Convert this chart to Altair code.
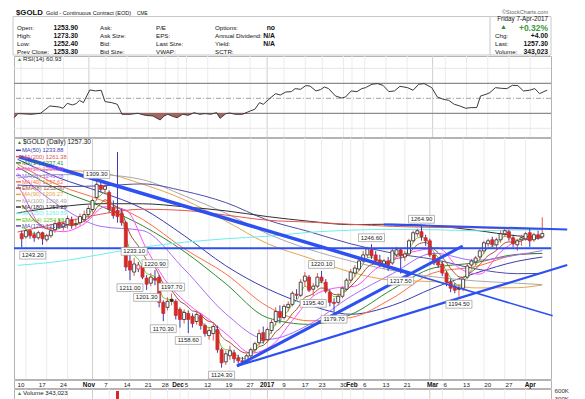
import altair as alt
import numpy as np
import pandas as pd

FONT = "Liberation Sans"
BLUE = "#2f50f0"
RED = "#d42a2a"
W = 537

# ---------------- x axis (trading-day index, 0 = Mon 10-Oct-2016) ----------------
tick_idx = [0, 5, 10, 16, 20, 25, 30, 34, 37, 39, 44, 49, 54, 58, 62, 67, 71, 76, 78, 81, 86, 91, 97, 100, 105, 110, 115, 120]
tick_lab = ["10", "17", "24", "Nov", "7", "14", "21", "28", "Dec", "5", "12", "19", "27", "2017", "9", "17", "23", "30",
            "Feb", "6", "13", "21", "Mar", "6", "13", "20", "27", "Apr"]
month_labels = ["Nov", "Dec", "2017", "Feb", "Mar", "Apr"]
dark_ticks = [16, 58, 97]

# ---------------- daily candles (idx -1 .. 124) ----------------
day_idx = list(range(-1, 125))
opens = [1257, 1254, 1260, 1256, 1253, 1258, 1251, 1255, 1261, 1268, 1264, 1266, 1271, 1266, 1268, 1271, 1276, 1281, 1293, 1305,
         1301, 1298, 1283, 1280, 1277, 1268, 1230, 1219, 1222, 1225, 1213, 1208, 1213, 1214, 1189, 1184, 1192, 1190, 1182, 1172,
         1178, 1175, 1170, 1176, 1166, 1156, 1158, 1162, 1142, 1130, 1136, 1139, 1134, 1131, 1130, 1136, 1142, 1149, 1159, 1152,
         1161, 1170, 1180, 1174, 1184, 1187, 1197, 1196, 1210, 1214, 1202, 1205, 1214, 1209, 1199, 1189, 1189, 1195, 1202, 1211,
         1218, 1222, 1230, 1236, 1241, 1236, 1231, 1227, 1230, 1228, 1236, 1241, 1234, 1237, 1250, 1257, 1259, 1253, 1250, 1236,
         1230, 1227, 1218, 1209, 1204, 1203, 1203, 1214, 1226, 1229, 1234, 1240, 1247, 1251, 1246, 1251, 1257, 1259, 1253, 1246,
         1251, 1252, 1258, 1251, 1256, 1253.9]
highs = [1260, 1262, 1261, 1259, 1260, 1259, 1257, 1264, 1270, 1272, 1270, 1275, 1274, 1272, 1277, 1280, 1285, 1292, 1309.3, 1308,
         1306, 1300, 1290, 1338, 1282, 1270, 1236, 1233.1, 1229, 1227, 1216, 1218, 1220.9, 1216, 1191, 1194, 1197.7, 1192, 1184, 1182,
         1181, 1178, 1180, 1178, 1168, 1164, 1168, 1166, 1144, 1141, 1146, 1142, 1137, 1135, 1138, 1144, 1150, 1162, 1165, 1164,
         1172, 1184, 1186, 1187, 1190, 1200, 1202, 1212, 1219, 1216, 1208, 1218, 1220.1, 1212, 1202, 1193, 1198, 1205, 1213, 1222,
         1226, 1233, 1240, 1244, 1246.6, 1240, 1236, 1232, 1234, 1243, 1244, 1243, 1240, 1252, 1260, 1262, 1264.9, 1256, 1252, 1238,
         1233, 1230, 1220, 1212, 1208, 1207, 1214, 1228, 1232, 1235, 1243, 1250, 1252, 1254, 1253, 1260, 1263, 1261, 1256, 1252,
         1256, 1259, 1262, 1258, 1260, 1273.3]
lows = [1243.2, 1252, 1252, 1249, 1251, 1246, 1249, 1253, 1258, 1262, 1260, 1262, 1262, 1263, 1265, 1268, 1272, 1278, 1290, 1298,
        1296, 1278, 1272, 1268, 1265, 1220, 1211, 1215, 1219, 1212, 1201.3, 1205, 1206, 1184, 1170.3, 1181, 1186, 1172, 1164, 1168,
        1158.6, 1164, 1167, 1162, 1155, 1152, 1151, 1139, 1124.3, 1127, 1132, 1129, 1128, 1127, 1128, 1134, 1139, 1146, 1148, 1149,
        1158, 1166, 1168, 1172, 1180, 1185, 1192, 1194, 1205, 1199, 1195.4, 1203, 1208, 1198, 1185, 1179.7, 1186, 1193, 1200, 1208,
        1214, 1220, 1228, 1233, 1232, 1227, 1224, 1222, 1220, 1226, 1234, 1217.5, 1230, 1235, 1248, 1254, 1250, 1245, 1234, 1226,
        1223, 1215, 1205, 1199, 1198, 1194.5, 1200, 1212, 1222, 1226, 1231, 1237, 1244, 1244, 1241, 1248, 1254, 1250, 1244, 1240,
        1245, 1250, 1244, 1249, 1251, 1252.4]
closes = [1252, 1260, 1255, 1253, 1258, 1252, 1255, 1260, 1267, 1264, 1267, 1272, 1265, 1267, 1274, 1276, 1282, 1290, 1306, 1301,
          1304, 1281, 1275, 1274, 1268, 1224, 1221, 1227, 1226, 1214, 1207, 1214, 1211, 1189, 1178, 1190, 1190, 1176, 1172, 1179,
          1172, 1168, 1177, 1166, 1158, 1161, 1165, 1142, 1129, 1138, 1141, 1133, 1131, 1130, 1136, 1142, 1148, 1158, 1151, 1162,
          1169, 1180, 1174, 1185, 1187, 1198, 1196, 1209, 1215, 1201, 1205, 1214, 1210, 1200, 1189, 1188, 1195, 1203, 1211, 1219,
          1223, 1230, 1236, 1242, 1235, 1230, 1227, 1230, 1226, 1240, 1241, 1235, 1237, 1250, 1258, 1260, 1254, 1250, 1236, 1228,
          1226, 1218, 1209, 1203, 1201, 1202, 1212, 1225, 1230, 1233, 1240, 1248, 1250, 1246, 1251, 1257, 1260, 1253, 1247, 1250,
          1253, 1257, 1250, 1256, 1253.3, 1257.3]

# ---------------- moving averages ----------------
ma_idx = [-2, 8, 18, 28, 38, 48, 58, 68, 78, 88, 98, 108, 118, 124]
ma50 = [1330.8, 1312.3, 1298.3, 1282.0, 1255.2, 1225.3, 1202.4, 1186.3, 1177.2, 1185.9, 1203.4, 1217.9, 1229.7, 1233.88]
ma40 = [1326.0, 1304.9, 1290.4, 1271.3, 1242.2, 1217.2, 1185.0, 1170.7, 1173.9, 1193.0, 1218.4, 1224.5, 1236.2, 1237.62]
ma34 = [1323.2, 1300.5, 1284.3, 1265.0, 1239.5, 1207.5, 1173.8, 1167.2, 1176.8, 1201.8, 1223.2, 1228.3, 1236.6, 1237.41]
ma21 = [1316.7, 1284.8, 1264.3, 1260.2, 1222.0, 1177.7, 1152.3, 1166.9, 1194.8, 1217.3, 1237.7, 1230.6, 1236.0, 1240.28]
ma90 = [1322.0, 1320.1, 1317.5, 1306.2, 1290.8, 1269.6, 1247.2, 1232.9, 1219.0, 1210.9, 1209.5, 1203.3, 1203.5, 1206.27]
ma100 = [1312.3, 1315.6, 1315.3, 1310.6, 1294.7, 1277.4, 1257.0, 1241.6, 1229.9, 1220.5, 1214.3, 1210.2, 1208.0, 1206.49]
ma120 = [1305.3, 1303.8, 1304.4, 1306.4, 1299.3, 1287.9, 1270.6, 1259.1, 1247.0, 1237.8, 1231.5, 1222.2, 1217.4, 1217.66]
ma180 = [1277.7, 1283.6, 1286.8, 1286.7, 1283.7, 1279.7, 1274.0, 1269.4, 1266.0, 1266.5, 1264.8, 1260.4, 1254.9, 1253.29]
ma200 = [1258.7, 1267.5, 1276.4, 1281.3, 1280.1, 1275.5, 1270.4, 1268.5, 1266.4, 1264.3, 1263.3, 1262.9, 1261.6, 1261.38]
ma250 = [1225.7, 1229.6, 1236.5, 1243.6, 1248.5, 1252.0, 1254.5, 1258.4, 1260.5, 1261.3, 1261.0, 1259.9, 1260.7, 1260.89]
ma10_idx = [-2, -1, 4, 9, 14, 19, 24, 29, 34, 39, 44, 49, 54, 59, 64, 69, 74, 79, 84, 89, 94, 99, 104, 109, 114, 119, 124]
ma10 = [1305, 1298.2, 1263.4, 1259.1, 1266.7, 1283.7, 1280.5, 1241.7, 1208, 1187, 1172, 1154.5, 1138.7, 1146, 1171, 1195, 1203,
        1205, 1222, 1234, 1240, 1243, 1223, 1217, 1239, 1251.5, 1254.07]
ema4 = [1263, 1261.8, 1259.1, 1256.7, 1257.2, 1255.1, 1255.1, 1257.1, 1261.0, 1262.2, 1264.1, 1267.3, 1266.4, 1266.6, 1269.6, 1272.1,
        1276.1, 1281.7, 1291.4, 1295.2, 1298.7, 1291.6, 1285.0, 1280.6, 1275.6, 1255.0, 1241.4, 1235.6, 1231.8, 1224.7, 1217.6, 1216.2,
        1214.1, 1204.1, 1193.6, 1192.2, 1191.3, 1185.2, 1179.9, 1179.5, 1176.5, 1173.1, 1174.7, 1171.2, 1165.9, 1164.0, 1164.4, 1155.4,
        1144.9, 1142.1, 1141.7, 1138.2, 1135.3, 1133.2, 1134.3, 1137.4, 1141.6, 1148.2, 1149.3, 1154.4, 1160.2, 1168.1, 1170.5, 1176.3,
        1180.6, 1187.6, 1190.9, 1198.2, 1204.9, 1203.3, 1204.0, 1208.0, 1208.8, 1205.3, 1198.8, 1194.5, 1194.7, 1198.0, 1203.2, 1209.5,
        1214.9, 1220.9, 1227.0, 1233.0, 1233.8, 1232.3, 1230.2, 1230.1, 1228.5, 1233.1, 1236.2, 1235.7, 1236.2, 1241.7, 1248.2, 1252.9,
        1253.4, 1252.0, 1245.6, 1238.6, 1233.5, 1227.3, 1220.0, 1213.2, 1208.3, 1205.8, 1208.3, 1215.0, 1221.0, 1225.8, 1231.5, 1238.1,
        1242.8, 1244.1, 1246.9, 1250.9, 1254.6, 1253.9, 1251.2, 1250.7, 1251.6, 1253.8, 1252.3, 1253.8, 1253.5, 1254.58]
ema8 = [1285, 1281.3, 1275.5, 1270.5, 1267.7, 1264.2, 1262.2, 1261.7, 1262.9, 1263.1, 1264.0, 1265.6, 1265.5, 1265.7, 1267.7, 1269.5,
        1272.3, 1276.2, 1282.8, 1286.8, 1290.6, 1288.5, 1285.5, 1282.9, 1279.6, 1267.3, 1257.0, 1250.3, 1244.9, 1238.0, 1231.1, 1227.3,
        1223.7, 1216.0, 1207.5, 1203.6, 1200.6, 1195.1, 1190.0, 1187.6, 1184.1, 1180.5, 1179.7, 1176.7, 1172.5, 1170.0, 1168.9, 1162.9,
        1155.4, 1151.5, 1149.2, 1145.6, 1142.4, 1139.6, 1138.8, 1139.5, 1141.4, 1145.1, 1146.4, 1149.9, 1154.1, 1159.9, 1163.0, 1167.9,
        1172.1, 1177.9, 1181.9, 1187.9, 1193.9, 1195.5, 1197.6, 1201.2, 1203.2, 1202.5, 1199.5, 1196.9, 1196.5, 1198.0, 1200.9, 1204.9,
        1208.9, 1213.6, 1218.6, 1223.8, 1226.3, 1227.1, 1227.1, 1227.7, 1227.3, 1230.1, 1232.5, 1233.1, 1234.0, 1237.5, 1242.1, 1246.1,
        1247.8, 1248.3, 1245.6, 1241.7, 1238.2, 1233.7, 1228.2, 1222.6, 1217.8, 1214.3, 1213.8, 1216.3, 1219.3, 1222.4, 1226.3, 1231.1,
        1235.3, 1237.7, 1240.6, 1244.3, 1247.8, 1248.9, 1248.5, 1248.8, 1249.8, 1251.4, 1251.1, 1252.2, 1252.4, 1252.90]

legend_names = ["MA(50)", "MA(200)", "MA(34)", "MA(10)", "MA(21)", "MA(40)", "EMA(8)", "MA(90)", "MA(100)", "MA(180)",
                "MA(250)", "EMA(4)", "MA(120)"]
legend_values = ["1233.88", "1261.38", "1237.41", "1254.07", "1240.28", "1237.62", "1252.90", "1206.27", "1206.49", "1253.29",
                 "1260.89", "1254.58", "1217.66"]
legend_colors = ["#3b3bb0", "#e5564e", "#2e8b2e", "#ff4dff", "#a66cff", "#ff6d3f", "#a0522d", "#e6a64c", "#a9a9a9", "#303030",
                 "#6feeee", "#66cc2c", "#4d4daa"]

# ---------------- trend lines ----------------
trend_names = ["down_thick", "down_thin", "rise_steep", "rise_shallow", "top"]
trend_i0 = [-1.65, 92.4, 50.7, 50.7, 86.0]
trend_p0 = [1333.3, 1217.6, 1125.9, 1125.9, 1266.2]
trend_i1 = [92.4, 126.5, 104.9, 130.0, 130.0]
trend_p1 = [1217.6, 1175.6, 1244.8, 1226.0, 1261.2]
trend_width = [3.5, 1.6, 3.0, 2.2, 2.0]
hline_price = 1242.5

# ---------------- high / low annotations ----------------
ann_hi_idx = [17, 26, 31, 35, 71, 83, 95]
ann_hi_val = [1309.30, 1233.10, 1220.90, 1197.70, 1220.10, 1246.60, 1264.90]
ann_lo_idx = [25, 29, 33, 39, 47, 69, 74, 90, 104]
ann_lo_val = [1211.00, 1201.30, 1170.30, 1158.60, 1124.30, 1195.40, 1179.70, 1217.50, 1194.50]
ann_first_idx = [-1]
ann_first_val = [1243.20]

# ---------------- RSI(14) ----------------
rsi_idx = [-1.6, -0.7, 2.4, 4.6, 6.8, 9.0, 9.9, 10.9, 12.1, 13.0, 13.8, 14.7, 16.2, 17.6, 18.9, 19.8, 21.4, 22.7, 23.8, 25.8,
           27.5, 29.3, 31.1, 32.8, 33.7, 34.6, 35.9, 36.8, 38.1, 39.4, 40.8, 42.1, 43.4, 44.7, 46.1, 46.9, 48.3, 49.2, 50.5, 52.2,
           54.0, 55.1, 56.2, 57.1, 58.4, 60.0, 61.1, 62.4, 63.7, 64.6, 65.9, 67.1, 68.1, 69.5, 70.6, 71.5, 72.5, 74.1, 75.6, 76.5,
           77.8, 79.2, 80.3, 81.2, 82.7, 84.0, 85.3, 86.7, 88.0, 89.3, 91.1, 92.4, 93.7, 95.0, 96.8, 98.1, 99.5, 100.8, 102.1, 103.4,
           104.8, 106.1, 107.4, 108.3, 109.6, 110.5, 111.8, 113.2, 114.5, 115.8, 117.1, 118.4, 119.8, 121.1, 122.2, 124.0]
rsi_val = [24.2, 29.6, 28.7, 30.0, 39.8, 38.4, 36.7, 43.3, 41.1, 42.9, 47.3, 44.2, 61.1, 59.8, 60.7, 45.6, 44.2, 42.0, 28.7, 28.7,
           30.0, 27.3, 26.4, 21.1, 26.4, 28.7, 25.6, 24.2, 28.7, 27.3, 30.9, 28.7, 29.6, 28.7, 30.9, 23.3, 29.6, 30.4, 28.7, 28.7,
           33.1, 35.3, 44.2, 42.0, 48.7, 56.2, 54.4, 58.4, 58.9, 62.9, 62.0, 66.9, 66.4, 59.8, 61.6, 65.1, 62.9, 53.1, 50.4, 51.8,
           59.8, 58.9, 62.9, 64.2, 68.7, 69.6, 67.3, 58.9, 59.8, 66.0, 64.2, 60.7, 68.7, 69.6, 64.2, 51.8, 48.7, 47.3, 42.0, 39.8,
           36.7, 37.6, 37.6, 53.1, 55.3, 57.6, 64.2, 63.3, 62.9, 67.3, 66.9, 59.8, 60.7, 62.9, 56.2, 60.93]
rsi_ticks = [10, 30, 50, 70, 90]

# ---------------- volume (only the visible top) ----------------
vol_idx = [22]
vol_val = [574000]

# ======================================================================
xs = alt.Scale(domain=[-1.65, 124.9], nice=False, zero=False)
X = alt.X("i:Q", scale=xs, axis=None)
one = pd.DataFrame({"a": [0]})


def txt(s, x, y, size=6.2, weight="normal", color="#111", align="left", baseline="middle", font=FONT):
    return alt.Chart(one).mark_text(text=s, fontSize=size, fontWeight=weight, color=color, align=align,
                                    baseline=baseline, font=font).encode(x=alt.value(x), y=alt.value(y))


def box(x1, x2, y1, y2, color="#c8c8c8"):
    return alt.Chart(one).mark_rect(fillOpacity=0, stroke=color, strokeWidth=1).encode(
        x=alt.value(x1), x2=alt.value(x2), y=alt.value(y1), y2=alt.value(y2))


def vgrid():
    tdf = pd.DataFrame({"i": tick_idx})
    tdf["dark"] = tdf["i"].isin(dark_ticks)
    light = alt.Chart(tdf[~tdf["dark"]]).mark_rule(color="#ececec", strokeWidth=1).encode(x=X)
    dark = alt.Chart(tdf[tdf["dark"]]).mark_rule(color="#cfcfcf", strokeWidth=1).encode(x=X)
    return [light, dark]


# ---------------- header ----------------
hdr = [
    box(-1, 537, 7.5, 46),
    alt.Chart(one).mark_rule(color="#c8c8c8").encode(x=alt.value(476), y=alt.value(7.5), y2=alt.value(46)),
    txt("$GOLD", 2, 4, size=7.8, weight="bold"),
    txt("Gold - Continuous Contract (EOD)", 32, 4.3, size=5.6),
    txt("CME", 123, 4.5, size=4.8),
    txt("\u00a9StockCharts.com", 534, 3, size=5.5, color="#666", align="right"),
]
rows_y = [18.7, 26.5, 34.5, 42.7]
for lab, val, y in zip(["Open:", "High:", "Low:", "Prev Close:"], ["1253.90", "1273.30", "1252.40", "1253.30"], rows_y):
    hdr.append(txt(lab, 3, y))
    hdr.append(txt(val, 64, y, size=6.8, weight="bold", align="right"))
for lab, y in zip(["Ask:", "Ask Size:", "Bid:", "Bid Size:"], rows_y):
    hdr.append(txt(lab, 86, y))
for lab, y in zip(["P/E", "EPS:", "Last Size:", "VWAP:"], rows_y):
    hdr.append(txt(lab, 142, y))
for lab, val, y in zip(["Options:", "Annual Dividend:", "Yield:", "SCTR:"], ["no", "N/A", "N/A", ""], rows_y):
    hdr.append(txt(lab, 201, y))
    if val:
        hdr.append(txt(val, 261, y, size=6.8, weight="bold", align="right"))
hdr += [
    txt("Friday  7-Apr-2017", 534, 10, size=6.3, align="right"),
    txt("\u25b2", 486, 18, size=7, color="#2e8b2e"),
    txt("+0.32%", 534, 18.5, size=8.5, weight="bold", color="#3a9a3a", align="right"),
    txt("Chg:", 481, 26.5), txt("+4.00", 534, 26.5, size=6.8, weight="bold", align="right"),
    txt("Last:", 481, 34.5), txt("1257.30", 534, 34.5, size=6.8, weight="bold", align="right"),
    txt("Volume:", 481, 42.7), txt("343,023", 534, 42.7, size=6.8, weight="bold", align="right"),
]
header = alt.layer(*hdr).properties(width=W, height=46, view=alt.ViewBackground(stroke="transparent"))

# ---------------- RSI panel ----------------
rsi_scale = alt.Scale(domain=[-1.6, 106.4], nice=False, zero=False)
rsi_df = pd.DataFrame({"i": rsi_idx, "r": rsi_val})
lvl = pd.DataFrame({"r": rsi_ticks})
rsi_layers = vgrid() + [
    alt.Chart(lvl[lvl.r.isin([10, 90])]).mark_rule(color="#e6e6e6").encode(y=alt.Y("r:Q", scale=rsi_scale, axis=None)),
    alt.Chart(lvl[lvl.r.isin([30, 70])]).mark_rule(color="#8c8c8c", strokeWidth=1.2).encode(
        y=alt.Y("r:Q", scale=rsi_scale, axis=None)),
    alt.Chart(lvl[lvl.r == 50]).mark_rule(color="#a0a0a0", strokeDash=[5, 2, 1, 2]).encode(
        y=alt.Y("r:Q", scale=rsi_scale, axis=None)),
    alt.Chart(rsi_df).transform_calculate(rlo="min(datum.r, 30)").mark_area(color="#a2524c", opacity=0.9).encode(
        x=X, y=alt.Y("rlo:Q", scale=rsi_scale, axis=None), y2=alt.datum(30)),
    alt.Chart(rsi_df).mark_line(color="#3a3a3a", strokeWidth=1).encode(
        x=X, y=alt.Y("r:Q", scale=rsi_scale,
                     axis=alt.Axis(orient="right", values=rsi_ticks, grid=False, domain=False, ticks=False,
                                   labelFontSize=6.2, labelFont=FONT, labelColor="#333", labelPadding=3, title=None))),
    txt("\u25b2", 3, 3, size=5, color="#2e8b2e"),
    txt("RSI(14) 60.93", 9, 3, size=6.2, color="#222"),
]
rsi = alt.layer(*rsi_layers).properties(width=W, height=81)

# ---------------- main price panel ----------------
ps = alt.Scale(domain=[1113.0, 1351.9], nice=False, zero=False)
Y_none = lambda f: alt.Y(f, scale=ps, axis=None)
price_ticks = list(range(1120, 1341, 10))

cd = pd.DataFrame({"i": day_idx, "o": opens, "h": highs, "l": lows, "c": closes})
prev = cd["c"].shift(1).fillna(1254.0)
cd["col"] = np.where(cd["c"] < prev, "red", "black")
cd["fil"] = np.where(cd["c"] < cd["o"], cd["col"], "white")
cd["lo"] = cd[["o", "c"]].min(axis=1)
cd["hi"] = cd[["o", "c"]].max(axis=1)

ma_frames = []
anchored = {"MA(50)": ma50, "MA(40)": ma40, "MA(34)": ma34, "MA(21)": ma21, "MA(90)": ma90, "MA(100)": ma100,
            "MA(120)": ma120, "MA(180)": ma180, "MA(200)": ma200, "MA(250)": ma250}
for n, vals in anchored.items():
    ma_frames.append(pd.DataFrame({"name": n, "i": ma_idx, "v": vals}))
ma_frames.append(pd.DataFrame({"name": "MA(10)", "i": ma10_idx, "v": ma10}))
ma_frames.append(pd.DataFrame({"name": "EMA(8)", "i": day_idx, "v": ema8}))
ma_frames.append(pd.DataFrame({"name": "EMA(4)", "i": day_idx, "v": ema4}))
ma_df = pd.concat(ma_frames, ignore_index=True)
draw_order = ["MA(250)", "MA(200)", "MA(180)", "MA(90)", "MA(100)", "MA(120)", "MA(50)", "MA(40)", "MA(34)", "MA(21)",
              "MA(10)", "EMA(8)", "EMA(4)"]
ma_df["ord"] = ma_df["name"].map({n: k for k, n in enumerate(draw_order)})

tl_rows = []
for n, i0, p0, i1, p1, w in zip(trend_names, trend_i0, trend_p0, trend_i1, trend_p1, trend_width):
    tl_rows += [{"line": n, "i": i0, "p": p0, "w": w}, {"line": n, "i": i1, "p": p1, "w": w}]
tl_df = pd.DataFrame(tl_rows)

hi_df = pd.DataFrame({"i": ann_hi_idx, "v": ann_hi_val})
lo_df = pd.DataFrame({"i": ann_lo_idx, "v": ann_lo_val})
first_df = pd.DataFrame({"i": ann_first_idx, "v": ann_first_val})
BOX = "M-1,-0.3H1V0.3H-1Z"


def ann(df, off, dx=0):
    base = alt.Chart(df).transform_calculate(t="format(datum.v, '.2f')")
    b = base.mark_point(shape=BOX, size=676, filled=True, fill="white", stroke="#9a9a9a", strokeWidth=0.7, opacity=1,
                        yOffset=off, xOffset=dx).encode(x=X, y=Y_none("v:Q"))
    t = base.mark_text(fontSize=6, font=FONT, color="#222", dy=off, dx=dx).encode(x=X, y=Y_none("v:Q"), text="t:N")
    return [b, t]


main_layers = [
    alt.Chart(pd.DataFrame({"p": price_ticks})).mark_rule(opacity=0).encode(
        y=alt.Y("p:Q", scale=ps, axis=alt.Axis(orient="right", values=price_ticks, grid=True, gridColor="#e6e6e6",
                                                domain=False, ticks=False, labelFontSize=6.2, labelFont=FONT,
                                                labelColor="#333", labelPadding=3, title=None))),
] + vgrid() + [
    alt.Chart(ma_df).mark_line(strokeWidth=1, interpolate="monotone", clip=True).encode(
        x=X, y=Y_none("v:Q"),
        color=alt.Color("name:N", scale=alt.Scale(domain=legend_names, range=legend_colors), legend=None),
        detail="name:N", order=alt.Order("ord:Q")),
    alt.Chart(cd).mark_rule(strokeWidth=1).encode(
        x=X, y=Y_none("l:Q"), y2="h:Q",
        color=alt.Color("col:N", scale=alt.Scale(domain=["red", "black"], range=[RED, "#222222"]), legend=None)),
    alt.Chart(cd).mark_bar(size=3, strokeWidth=0.8).encode(
        x=X, y=Y_none("lo:Q"), y2="hi:Q",
        stroke=alt.Stroke("col:N", scale=alt.Scale(domain=["red", "black"], range=[RED, "#222222"]), legend=None),
        fill=alt.Fill("fil:N", scale=alt.Scale(domain=["red", "black", "white"], range=[RED, "#222222", "#ffffff"]),
                      legend=None)),
    alt.Chart(pd.DataFrame({"p": [hline_price]})).mark_rule(color=BLUE, strokeWidth=2).encode(y=Y_none("p:Q")),
]
for n, w in zip(trend_names, trend_width):
    main_layers.append(alt.Chart(tl_df).transform_filter(alt.datum.line == n).mark_line(color=BLUE, strokeWidth=w).encode(
        x=X, y=Y_none("p:Q")))
main_layers += ann(hi_df, -6.5) + ann(lo_df, 7.5) + ann(first_df, 7.5, dx=11)
main_layers += [txt("\u25b2", 3, 4, size=5, color="#2e8b2e"),
                txt("$GOLD (Daily) 1257.30", 9, 4, size=6.5, color="#111")]
for k, (n, v, c) in enumerate(zip(legend_names, legend_values, legend_colors)):
    yk = 12.3 + 6.3 * k
    main_layers.append(alt.Chart(one).mark_rule(color=c, strokeWidth=1.5).encode(
        x=alt.value(2), x2=alt.value(7), y=alt.value(yk)))
    main_layers.append(txt(f"{n} {v}", 8, yk, size=5.8, color=c))
main = alt.layer(*main_layers).properties(width=W, height=241)

# ---------------- x axis strip ----------------
sdf = pd.DataFrame({"i": tick_idx, "lab": tick_lab})
sdf["bold"] = sdf["lab"].isin(month_labels)
strip = alt.layer(
    alt.Chart(sdf[~sdf["bold"]]).mark_text(fontSize=6.2, font=FONT, color="#222").encode(
        x=X, y=alt.value(4.5), text="lab:N"),
    alt.Chart(sdf[sdf["bold"]]).mark_text(fontSize=6.4, font=FONT, color="#111", fontWeight="bold").encode(
        x=X, y=alt.value(4.5), text="lab:N"),
).properties(width=W, height=8)

# ---------------- volume panel ----------------
vs = alt.Scale(domain=[217000, 646000], nice=False, zero=False)
vdf = pd.DataFrame({"i": vol_idx, "v": vol_val})
vol = alt.layer(
    *vgrid(),
    alt.Chart(vdf).mark_bar(size=3, color=RED, clip=True).encode(
        x=X, y=alt.Y("v:Q", scale=vs, axis=alt.Axis(orient="right", values=[600000, 300000], grid=False, domain=False,
                                                    ticks=False, labelFontSize=6.2, labelFont=FONT, labelColor="#333",
                                                    labelPadding=3, title=None,
                                                    labelExpr="format(datum.value / 1000, 'd') + 'K'"))),
    txt("\u25b2", 3, 4, size=5, color="#2e8b2e"),
    txt("Volume 343,023", 9, 4, size=6.2, color="#222"),
).properties(width=W, height=12)

chart = alt.vconcat(header, rsi, main, strip, vol, spacing=1, bounds="flush").properties(
    padding={"left": 3, "top": 0, "right": 0, "bottom": 0}, background="white"
).configure_view(stroke="#b4b4b4", strokeWidth=1)

chart.save("out.html", embed_options={"renderer": "svg", "actions": False})
